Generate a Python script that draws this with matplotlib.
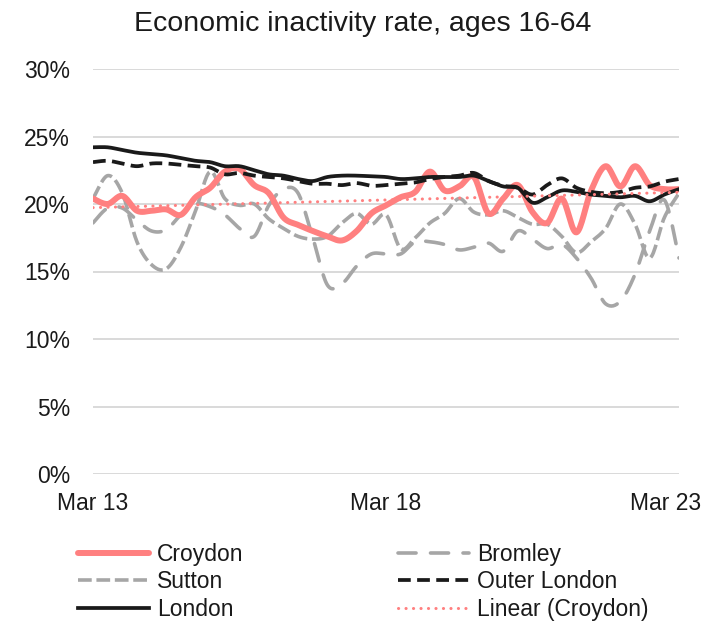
import numpy as np
import matplotlib
matplotlib.use("Agg")
import matplotlib.pyplot as plt
from matplotlib.transforms import ScaledTranslation

# Quarterly observations, Mar 2013 .. Mar 2023 (41 quarters)
quarters = np.arange(41)
x_tick_pos = [0, 20, 40]
x_tick_labels = ["Mar 13", "Mar 18", "Mar 23"]
y_ticks = [0, 5, 10, 15, 20, 25, 30]
y_tick_labels = [f"{v}%" for v in y_ticks]

croydon = [20.4, 20.0, 20.6, 19.5, 19.5, 19.6, 19.2, 20.5, 21.2, 22.4,
           22.6, 21.4, 20.8, 19.0, 18.45, 18.0, 17.6, 17.3, 18.0, 19.3,
           19.9, 20.5, 20.9, 22.4, 21.0, 21.3, 22.0, 19.3, 20.4, 21.4,
           19.4, 18.6, 20.4, 17.9, 21.0, 22.8, 21.3, 22.8, 21.4, 21.1,
           21.1]
bromley = [18.6, 19.7, 19.7, 18.8, 18.0, 18.1, 19.2, 20.0, 19.8, 19.2,
           18.2, 17.6, 19.9, 21.1, 20.8, 17.5, 14.0, 14.1, 15.4, 16.3,
           16.3, 16.3, 17.2, 17.2, 17.0, 16.6, 16.8, 17.1, 16.5, 18.0,
           17.4, 16.7, 17.0, 16.0, 14.5, 12.6, 12.8, 14.8, 18.0, 20.3,
           16.0]
sutton = [20.4, 22.1, 20.8, 17.2, 15.5, 15.2, 16.8, 19.5, 22.4, 20.4,
          19.9, 20.0, 18.9, 18.2, 17.6, 17.4, 17.6, 18.6, 19.3, 18.5,
          19.2, 16.7, 17.5, 18.6, 19.3, 20.4, 19.4, 19.2, 19.5, 19.0,
          18.5, 18.5, 17.6, 16.4, 17.2, 18.2, 20.0, 18.5, 16.0, 19.0,
          20.8]
outer_london = [23.1, 23.2, 23.0, 22.8, 23.0, 23.0, 22.9, 22.8, 22.7, 22.2,
                22.3, 22.1, 22.0, 21.9, 21.7, 21.5, 21.5, 21.4, 21.55, 21.35,
                21.4, 21.5, 21.6, 21.85, 22.0, 22.1, 22.3, 21.7, 21.35, 21.2,
                20.7, 21.4, 21.9, 21.2, 20.9, 20.8, 20.9, 21.2, 21.3, 21.65,
                21.85]
london = [24.2, 24.2, 24.0, 23.8, 23.7, 23.6, 23.4, 23.2, 23.1, 22.8,
          22.8, 22.5, 22.2, 22.1, 21.85, 21.7, 22.0, 22.1, 22.1, 22.05,
          22.0, 21.85, 21.9, 22.0, 22.0, 22.0, 22.1, 21.7, 21.3, 21.2,
          20.1, 20.5, 21.0, 20.9, 20.7, 20.6, 20.5, 20.6, 20.2, 20.7,
          21.1]

PINK = "#FF8080"
GREY = "#A6A6A6"
BLACK = "#1A1A1A"


def smooth(x, y, n=16):
    """Smoothed line through the points (cubic Bezier, Catmull-Rom tangents)."""
    P = np.column_stack([np.asarray(x, float), np.asarray(y, float)])
    Pm = np.vstack([P[0], P, P[-1]])
    t = np.linspace(0, 1, n, endpoint=False)[:, None]
    segs = []
    for i in range(len(P) - 1):
        p0, p1, p2, p3 = Pm[i], Pm[i + 1], Pm[i + 2], Pm[i + 3]
        c1 = p1 + (p2 - p0) / 6.0
        c2 = p2 - (p3 - p1) / 6.0
        segs.append((1 - t) ** 3 * p1 + 3 * (1 - t) ** 2 * t * c1
                    + 3 * (1 - t) * t ** 2 * c2 + t ** 3 * p2)
    segs.append(P[-1:])
    out = np.vstack(segs)
    return out[:, 0], out[:, 1]


plt.rcParams["font.family"] = ["Liberation Sans", "DejaVu Sans"]

fig = plt.figure(figsize=(7.06, 6.25), dpi=100)
ax = fig.add_axes([93 / 706, 1 - 474 / 625, (679 - 93) / 706, (474 - 69) / 625])
ax.set_xlim(0, 40)
ax.set_ylim(0, 30)

ax.set_yticks(y_ticks)
ax.set_yticklabels(y_tick_labels)
ax.set_xticks(x_tick_pos)
ax.set_xticklabels(x_tick_labels)
ax.yaxis.grid(True, color="#D9D9D9", lw=1.4)
ax.set_axisbelow(True)
for s in ax.spines.values():
    s.set_visible(False)
ax.tick_params(axis="both", length=0, labelsize=16.5, colors="#1A1A1A")
ax.tick_params(axis="y", pad=16.5)
ax.tick_params(axis="x", pad=13)
last = ax.get_xticklabels()[-1]
last.set_transform(last.get_transform() + ScaledTranslation(-0.135, 0, fig.dpi_scale_trans))

# series
lw_thin = 2.6
ax.plot(*smooth(quarters, bromley), color=GREY, lw=lw_thin, dashes=(5, 4),
        dash_capstyle="round", label="Bromley")
ax.plot(*smooth(quarters, sutton), color=GREY, lw=lw_thin, dashes=(3.8, 1.3),
        label="Sutton")
ax.plot(*smooth(quarters, croydon), color=PINK, lw=4.3, solid_capstyle="round",
        label="Croydon")
ax.plot(*smooth(quarters, outer_london), color=BLACK, lw=2.7, dashes=(3.4, 1.7),
        label="Outer London")
ax.plot(*smooth(quarters, london), color=BLACK, lw=2.7, label="London")

# linear trend of Croydon
slope, intercept = np.polyfit(quarters, croydon, 1)
ax.plot(quarters, slope * quarters + intercept, color=PINK, lw=2.2,
        linestyle=(0, (0.05, 2.4)), dash_capstyle="round",
        label="Linear (Croydon)")

fig.text(363 / 706, 1 - 31 / 625, "Economic inactivity rate, ages 16-64",
         ha="center", va="baseline", fontsize=20.5, color="#1A1A1A")

handles = {h.get_label(): h for h in ax.get_lines()}
order = ["Croydon", "Sutton", "London", "Bromley", "Outer London", "Linear (Croydon)"]
leg = fig.legend([handles[k] for k in order], order, ncol=2, loc="upper left",
                 bbox_to_anchor=(78 / 706, 1 - 543 / 625), frameon=False,
                 fontsize=16.5, handlelength=3.1, handletextpad=0.35,
                 columnspacing=6.75, labelspacing=0.19, borderpad=0,
                 borderaxespad=0)
for t in leg.get_texts():
    t.set_color("#1A1A1A")

fig.savefig("out.png", dpi=100)
